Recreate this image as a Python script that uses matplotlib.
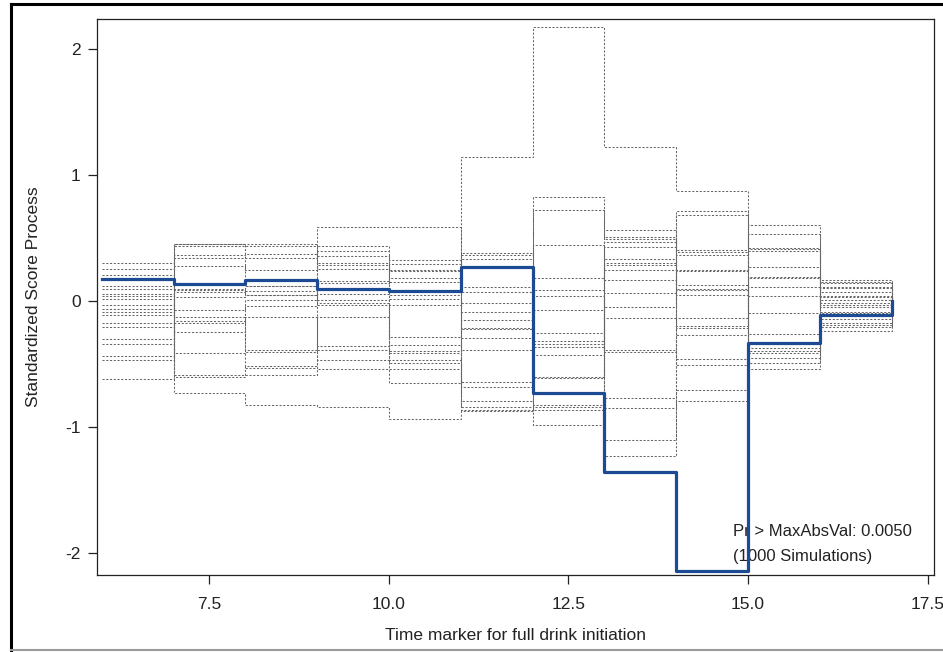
import matplotlib
matplotlib.use("Agg")
import matplotlib.pyplot as plt
from matplotlib.lines import Line2D

plt.rcParams['font.family'] = ['Liberation Sans', 'DejaVu Sans']
plt.rcParams['axes.unicode_minus'] = False

# interval start times; each process is constant on [t, t+1) and ends at t = 17
time_points = [6, 7, 8, 9, 10, 11, 12, 13, 14, 15, 16, 17]

observed = [0.174, 0.135, 0.17, 0.095, 0.08, 0.27, -0.73, -1.36, -2.14, -0.33, -0.11]

sim01 = [0.095, -0.129, -0.388, -0.467, -0.652, 1.143, 2.177, 1.222, 0.873, 0.412, 0.04]
sim02 = [0.30, 0.364, 0.378, 0.259, 0.013, -0.388, -0.731, 0.43, -0.137, -0.454, 0.155]
sim03 = [0.253, 0.457, 0.17, 0.356, 0.33, 0.267, 0.443, 0.245, -0.462, 0.113, -0.03]
sim04 = [0.211, 0.09, 0.048, 0.008, -0.467, -0.84, -0.071, -1.1, 0.251, 0.602, 0.102]
sim05 = [0.17, 0.14, 0.12, 0.10, 0.087, 0.113, -0.32, -0.045, 0.681, -0.375, -0.085]
sim06 = [0.121, 0.435, 0.44, 0.588, 0.588, -0.085, 0.72, 0.509, 0.10, -0.541, -0.208]
sim07 = [0.055, -0.248, -0.129, -0.356, -0.348, -0.863, -0.982, -1.233, -0.792, -0.322, 0.008]
sim08 = [0.04, 0.036, 0.082, -0.018, -0.287, -0.21, 0.18, 0.562, 0.39, 0.272, 0.145]
sim09 = [0.013, 0.346, 0.343, 0.398, 0.238, 0.383, 0.04, -0.388, -0.507, -0.338, -0.177]
sim10 = [-0.032, -0.158, -0.533, -0.388, -0.41, -0.639, -0.428, 0.338, 0.715, 0.425, 0.166]
sim11 = [-0.066, 0.45, 0.451, 0.303, 0.251, 0.37, -0.612, 0.166, 0.048, -0.414, -0.105]
sim12 = [-0.09, -0.588, -0.586, -0.541, -0.541, -0.797, -0.84, -0.77, -0.198, 0.193, 0.113]
sim13 = [-0.111, 0.10, 0.05, 0.14, 0.298, -0.013, -0.256, 0.47, 0.238, 0.04, -0.05]
sim14 = [-0.177, -0.604, -0.518, -0.032, -0.032, -0.224, -0.362, -0.137, -0.212, 0.395, -0.018]
sim15 = [-0.203, -0.731, -0.826, -0.842, -0.937, -0.875, -0.823, -0.85, -0.705, -0.40, -0.235]
sim16 = [-0.303, -0.071, 0.008, 0.055, 0.048, 0.074, -0.34, 0.30, 0.127, -0.261, -0.092]
sim17 = [-0.343, -0.414, -0.402, -0.129, -0.493, -0.686, -0.863, -0.402, -0.269, -0.493, 0.074]
sim18 = [-0.435, 0.28, 0.245, 0.435, 0.18, 0.338, 0.826, 0.492, 0.404, 0.53, 0.03]
sim19 = [-0.47, -0.172, -0.04, 0.158, 0.153, -0.295, -0.599, 0.285, 0.364, -0.092, -0.145]
sim20 = [-0.615, 0.074, 0.119, 0.288, -0.396, -0.15, 0.087, 0.061, 0.087, 0.18, -0.19]

simulated = [sim01, sim02, sim03, sim04, sim05, sim06, sim07, sim08, sim09, sim10,
             sim11, sim12, sim13, sim14, sim15, sim16, sim17, sim18, sim19, sim20]

# the score process returns to zero at the last time point
end_value = 0.0

x_ticks = [7.5, 10.0, 12.5, 15.0, 17.5]
y_ticks = [-2, -1, 0, 1, 2]

fig = plt.figure(figsize=(9.43, 6.52), dpi=100)
ax = fig.add_axes([0.1025, 0.1181, 0.888, 0.8523])

for path in simulated:
    ax.step(time_points, path + [end_value], where='post', color='#666666',
            linewidth=0.75, linestyle=(0, (2.0, 1.6)), zorder=2)

ax.step(time_points, observed + [end_value], where='post', color='#1d4b93',
        linewidth=2.3, zorder=4)

ax.text(0.760, 0.0774, 'Pr > MaxAbsVal: 0.0050', transform=ax.transAxes,
        fontsize=12, color='#222222', va='center', ha='left', zorder=3)
ax.text(0.760, 0.0324, '(1000 Simulations)', transform=ax.transAxes,
        fontsize=12, color='#222222', va='center', ha='left', zorder=3)

ax.set_xlim(5.93, 17.59)
ax.set_ylim(-2.175, 2.238)
ax.set_xticks(x_ticks)
ax.set_xticklabels([f"{t:.1f}" for t in x_ticks])
ax.set_yticks(y_ticks)

ax.tick_params(direction='out', length=6.5, width=0.9, colors='#222222',
               labelsize=12.5)
ax.tick_params(axis='x', pad=9)
ax.tick_params(axis='y', pad=5)
for spine in ax.spines.values():
    spine.set_linewidth(0.9)
    spine.set_color('#222222')

ax.set_xlabel('Time marker for full drink initiation', fontsize=12.5,
              color='#222222', labelpad=12)
ax.set_ylabel('Standardized Score Process', fontsize=12.5, color='#222222')
ax.yaxis.set_label_coords(-0.067, 0.5)

# outer frame of the graph
fig.add_artist(Line2D([11 / 943, 11 / 943], [1 - 4 / 652, 1 - 650 / 652],
                      transform=fig.transFigure, color='black', linewidth=2.2))
fig.add_artist(Line2D([11 / 943, 1.0], [1 - 4 / 652, 1 - 4 / 652],
                      transform=fig.transFigure, color='black', linewidth=2.2))
fig.add_artist(Line2D([11 / 943, 1.0], [1 - 650 / 652, 1 - 650 / 652],
                      transform=fig.transFigure, color='#9a9a9a', linewidth=1.5))

fig.savefig('out.png', dpi=100)
